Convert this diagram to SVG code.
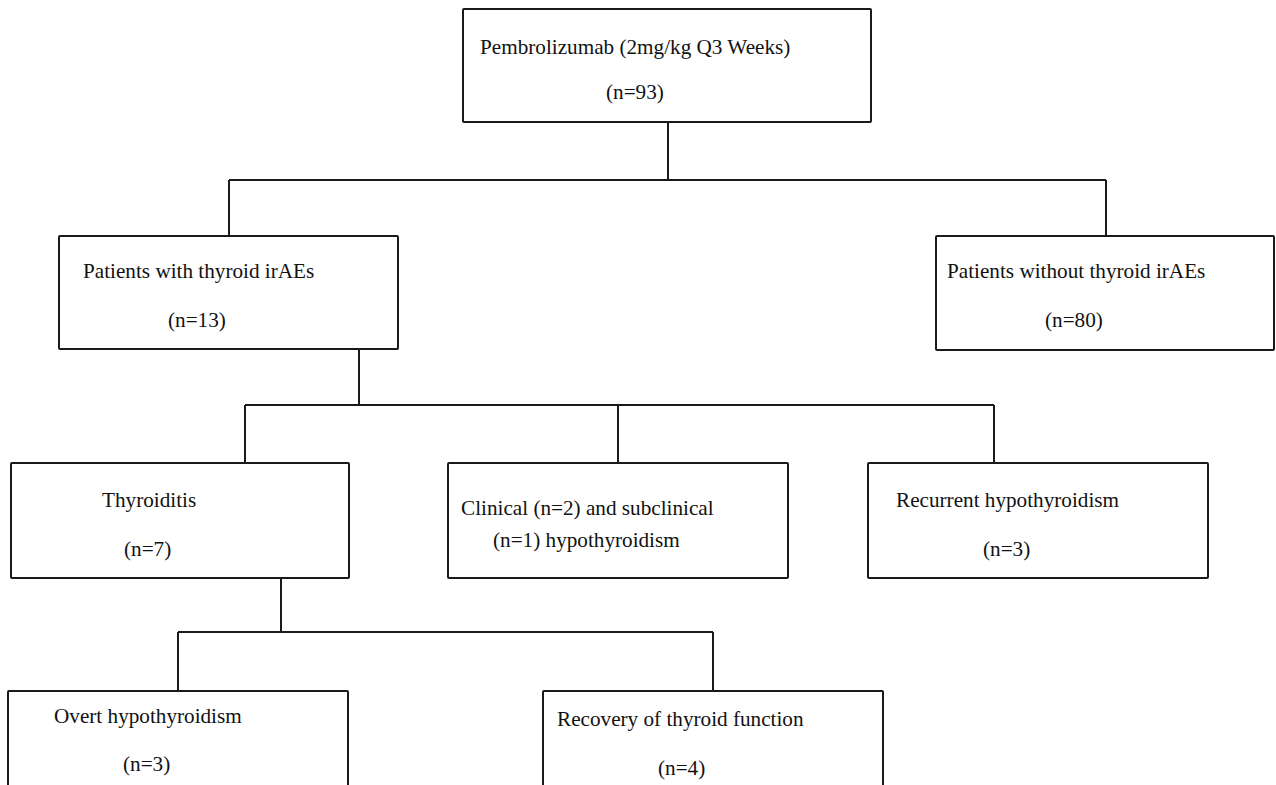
<svg xmlns="http://www.w3.org/2000/svg" width="1276" height="785" viewBox="0 0 1276 785">
<style>
.box{fill:#fff;stroke:#1a1a1a;stroke-width:2}
.t{font-family:"Liberation Serif","Times New Roman",serif;font-size:21.2px;fill:#111}
.c{stroke:#1a1a1a;stroke-width:2;fill:none}
</style>
<rect x="0" y="0" width="1276" height="785" fill="#fff"/>
<g id="connectors">
<path class="c" d="M668 122V180M229 180H1106M229 180V236M1106 180V236"/>
<path class="c" d="M359 349V405M245 405H994M245 405V463M618 405V463M994 405V463"/>
<path class="c" d="M281 578V632M178 632H713M178 632V691M713 632V691"/>
</g>
<g id="n-pembro">
<rect class="box" x="463" y="9" width="408" height="113" rx="1"/>
<text class="t" x="480" y="54">Pembrolizumab (2mg/kg Q3 Weeks)</text>
<text class="t" x="606" y="99">(n=93)</text>
</g>
<g id="n-with">
<rect class="box" x="59" y="236" width="339" height="113" rx="1"/>
<text class="t" x="83" y="278">Patients with thyroid irAEs</text>
<text class="t" x="168" y="327">(n=13)</text>
</g>
<g id="n-without">
<rect class="box" x="936" y="236" width="338" height="114" rx="1"/>
<text class="t" x="947" y="278">Patients without thyroid irAEs</text>
<text class="t" x="1045" y="327">(n=80)</text>
</g>
<g id="n-thyroiditis">
<rect class="box" x="11" y="463" width="338" height="115" rx="1"/>
<text class="t" x="102" y="507">Thyroiditis</text>
<text class="t" x="124" y="556">(n=7)</text>
</g>
<g id="n-clinical">
<rect class="box" x="448" y="463" width="340" height="115" rx="1"/>
<text class="t" x="461" y="515">Clinical (n=2) and subclinical</text>
<text class="t" x="493" y="547">(n=1) hypothyroidism</text>
</g>
<g id="n-recurrent">
<rect class="box" x="868" y="463" width="340" height="115" rx="1"/>
<text class="t" x="896" y="507">Recurrent hypothyroidism</text>
<text class="t" x="983" y="556">(n=3)</text>
</g>
<g id="n-overt">
<rect class="box" x="8" y="691" width="340" height="110" rx="1"/>
<text class="t" x="54" y="723">Overt hypothyroidism</text>
<text class="t" x="123" y="771">(n=3)</text>
</g>
<g id="n-recovery">
<rect class="box" x="543" y="691" width="340" height="110" rx="1"/>
<text class="t" x="557" y="726">Recovery of thyroid function</text>
<text class="t" x="658" y="775">(n=4)</text>
</g>
</svg>
